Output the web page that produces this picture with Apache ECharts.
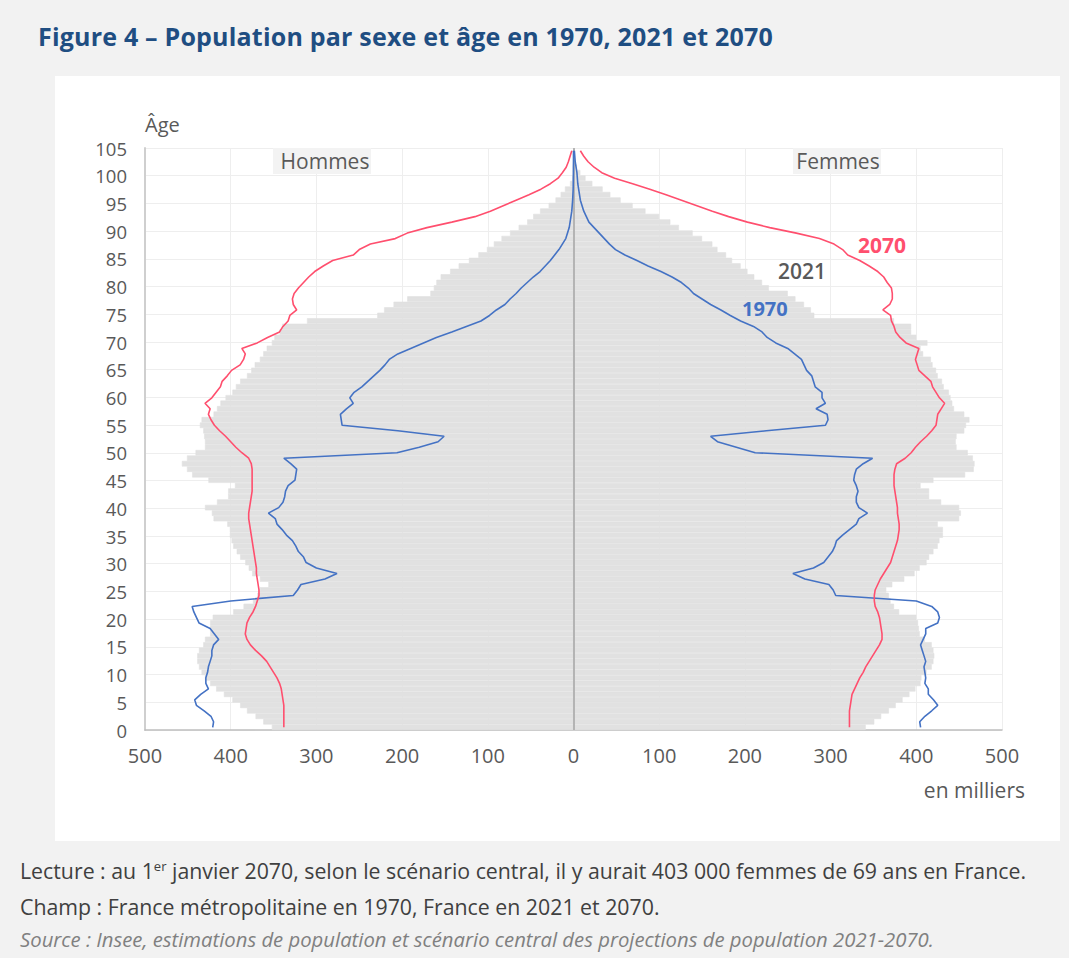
<!DOCTYPE html>
<html><head><meta charset="utf-8">
<script src="https://cdn.jsdelivr.net/npm/echarts/dist/echarts.min.js"></script>
<style>
html,body{margin:0;padding:0;background:#f2f2f2;width:1069px;height:958px;overflow:hidden;font-family:"Open Sans",sans-serif;}
#title{position:absolute;left:38px;top:19px;font-size:25px;line-height:34px;font-weight:700;color:#1f4e82;white-space:nowrap;letter-spacing:0.2px;}
#panel{position:absolute;left:55px;top:76px;width:1005px;height:765px;background:#fff;}
#chart{position:absolute;left:0;top:0;width:1069px;height:958px;}
.foot{position:absolute;left:20px;font-size:21.3px;color:#404040;white-space:nowrap;line-height:1;}
.foot sup{font-size:13px;vertical-align:8px;line-height:0;}
.src{font-style:italic;color:#808080;font-size:20.3px;}
</style></head>
<body>
<div id="title">Figure 4 – Population par sexe et âge en 1970, 2021 et 2070</div>
<div id="panel"></div>
<div id="chart"></div>
<div class="foot" style="top:860px">Lecture : au 1<sup>er</sup> janvier 2070, selon le scénario central, il y aurait 403 000 femmes de 69 ans en France.</div>
<div class="foot" style="top:896px">Champ : France métropolitaine en 1970, France en 2021 et 2070.</div>
<div class="foot src" style="top:929px">Source : Insee, estimations de population et scénario central des projections de population 2021-2070.</div>
<script>
// Ages 0..105
const ages = [];
for (let a = 0; a <= 105; a++) ages.push(String(a));

// 2021 (grey bars), thousands
const hommes2021 = [352,362,371,381,389,398,408,417,424,430,
434,437,439,439,437,432,430,424,424,424,
421,397,385,374,369,366,356,366,375,379,
383,389,393,397,399,401,401,404,420,422,
430,416,403,403,395,426,445,451,457,451,
441,430,430,431,432,436,434,420,416,412,
406,398,394,389,381,376,372,366,362,358,
352,349,343,340,311,229,221,210,194,167,
163,160,155,144,134,122,111,101,93,84,
74,64,54,47,39,29,21,15,10,4,
1.5,0.8,0.4,0.2,0.1,0.05];
const femmes2021 = [341,351,359,368,376,384,392,399,405,406,
412,418,420,421,420,418,410,404,403,402,
400,380,374,370,368,365,372,386,398,404,
412,415,420,425,427,431,431,425,450,452,
450,429,415,415,405,420,457,467,468,466,
460,447,446,447,456,458,462,456,444,442,
440,438,432,430,425,423,419,417,408,405,
413,400,394,394,374,281,277,269,259,250,
228,220,211,203,195,185,178,168,162,150,
139,123,113,100,84,69,55,43,34,22,
14,8,4,2,1,0.5];

// 1970 (blue line)
const hommes1970 = [421,420,423,431,440,442,435,426,429,429,
427,426,424,422,422,420,414,419,424,437,
440,443,445,400,327,322,318,290,276,300,
312,315,321,324,328,335,340,346,348,356,
344,339,337,336,333,325,324,323,330,338,
206,180,158,151,205,270,271,272,265,257,
261,256,247,240,233,226,220,215,205,190,
175,160,142,125,108,98,90,80,74,67,
61,54,47,39,33,27,22,17,13,9,
7,5,4,3,2,1.5,1,0.7,0.4,0.3,
0.2,0.1,0.1,0,0,0];
const femmes1970 = [405,404,410,418,425,420,414,414,410,411,
410,409,411,409,407,405,408,411,411,425,
427,425,418,400,306,303,298,270,256,280,
292,297,302,305,307,314,322,330,333,343,
333,330,330,332,330,327,328,330,338,349,
212,190,168,160,225,294,297,296,283,294,
290,290,282,280,278,272,269,266,258,250,
236,226,220,210,195,183,172,160,150,140,
134,126,115,102,87,74,60,49,42,36,
30,24,18,15,12,10,8,7,6,5,
4.5,4,3,2,1.5,1];

// 2070 (pink line)
const hommes2070 = [338,338,338,338,338,339,340,341,343,346,
350,354,358,364,371,377,381,383,382,381,
378,374,371,369,367,367,368,369,370,370,
371,372,373,374,375,376,377,378,379,379,
378,377,376,375,375,375,375,375,376,379,
387,394,400,406,413,419,423,426,424,430,
422,417,412,410,404,399,389,385,383,387,
369,357,343,339,333,331,323,327,328,326,
321,315,309,302,292,281,257,250,237,208,
194,171,142,115,97,82,67,52,38,27,
18,13,8.5,6,4,2];
const femmes2070 = [322,322,322,322,323,324,325,328,331,334,
338,341,345,349,353,357,360,360,359,358,
357,355,352,351,351,352,355,358,362,366,
370,372,374,376,378,379,380,380,379,378,
378,377,376,375,374,374,374,375,377,387,
394,399,405,412,418,423,424,425,429,433,
427,423,419,417,410,403,401,399,401,403,
388,381,376,374,371,370,361,369,372,372,
371,366,362,355,345,334,320,314,304,287,
260,229,203,181,162,144,126,108,89,69,
48,33,24,17,12,8];

const xTicks = [-500,-400,-300,-200,-100,0,100,200,300,400,500];

const neg = arr => arr.map(v => -v);
const FONT = '"Open Sans", sans-serif';
const GREY_TXT = '#595959';
const PINK = '#ff4f6e';
const BLUE = '#4472c4';

const chart = echarts.init(document.getElementById('chart'), null, {renderer: 'svg'});
const gridLeft = 145, gridTop = 148, gridRight = 1069 - 1002, gridBottom = 958 - 730;

const lineSeries = (name, data, color) => ({
  name, type: 'line', yAxisIndex: 1, data, symbol: 'none', z: 4,
  lineStyle: {color, width: 1.6}, itemStyle: {color}, silent: true, animation: false
});

chart.setOption({
  animation: false,
  backgroundColor: 'transparent',
  textStyle: {fontFamily: FONT},
  grid: {left: gridLeft, top: gridTop, right: gridRight, bottom: gridBottom, containLabel: false},
  xAxis: {
    type: 'value', min: xTicks[0], max: xTicks[xTicks.length - 1], interval: 100,
    axisLabel: {formatter: v => String(Math.abs(v)), color: GREY_TXT, fontSize: 20, margin: 15, fontFamily: FONT},
    axisLine: {show: true, onZero: false, lineStyle: {color: '#bfbfbf', width: 1.5}},
    axisTick: {show: false},
    splitLine: {show: true, lineStyle: {color: '#eeeeee', width: 1}}
  },
  yAxis: [{
    type: 'value', min: 0, max: 105, interval: 5, position: 'left',
    name: 'Âge', nameLocation: 'end', nameGap: 14,
    nameTextStyle: {align: 'left', color: GREY_TXT, fontSize: 20, fontFamily: FONT},
    axisLabel: {color: GREY_TXT, fontSize: 18.5, margin: 18, fontFamily: FONT},
    axisLine: {show: true, onZero: false, lineStyle: {color: '#cfcfcf', width: 2}},
    axisTick: {show: false},
    splitLine: {show: true, lineStyle: {color: '#eeeeee', width: 1}}
  }, {
    type: 'category', data: ages, show: false, boundaryGap: true, position: 'left',
    axisLine: {onZero: false}
  }],
  series: [
    {name: 'Hommes 2021', type: 'bar', yAxisIndex: 1, stack: 'p2021', data: neg(hommes2021),
     barCategoryGap: '0%', z: 1, silent: true,
     itemStyle: {color: '#e1e1e1', borderColor: '#e1e1e1', borderWidth: 0.6},
     markLine: {silent: true, symbol: 'none', z: 3, animation: false,
       label: {show: false}, lineStyle: {color: '#b4b4b4', width: 2, type: 'solid'},
       data: [{xAxis: 0}]}},
    {name: 'Femmes 2021', type: 'bar', yAxisIndex: 1, stack: 'p2021', data: femmes2021,
     barCategoryGap: '0%', z: 1, silent: true,
     itemStyle: {color: '#e1e1e1', borderColor: '#e1e1e1', borderWidth: 0.6}},
    lineSeries('Hommes 1970', neg(hommes1970), BLUE),
    lineSeries('Femmes 1970', femmes1970, BLUE),
    lineSeries('Hommes 2070', neg(hommes2070), PINK),
    lineSeries('Femmes 2070', femmes2070, PINK)
  ],
  graphic: [
    {type: 'rect', shape: {x: 273, y: 148, width: 98, height: 26}, style: {fill: '#f3f3f3'}, z: 10, silent: true},
    {type: 'text', x: 325, y: 161, z: 11, silent: true,
     style: {text: 'Hommes', fill: GREY_TXT, font: '21px ' + FONT, textAlign: 'center', textVerticalAlign: 'middle'}},
    {type: 'rect', shape: {x: 793, y: 148, width: 88, height: 26}, style: {fill: '#f3f3f3'}, z: 10, silent: true},
    {type: 'text', x: 838, y: 161, z: 11, silent: true,
     style: {text: 'Femmes', fill: GREY_TXT, font: '21px ' + FONT, textAlign: 'center', textVerticalAlign: 'middle'}},
    {type: 'text', x: 858, y: 245, z: 11, silent: true,
     style: {text: '2070', fill: PINK, font: 'bold 21px ' + FONT, textAlign: 'left', textVerticalAlign: 'middle'}},
    {type: 'text', x: 778, y: 271, z: 11, silent: true,
     style: {text: '2021', fill: GREY_TXT, font: '600 21px ' + FONT, textAlign: 'left', textVerticalAlign: 'middle'}},
    {type: 'text', x: 742, y: 308, z: 11, silent: true,
     style: {text: '1970', fill: BLUE, font: 'bold 20px ' + FONT, textAlign: 'left', textVerticalAlign: 'middle'}},
    {type: 'text', x: 1025, y: 790, z: 11, silent: true,
     style: {text: 'en milliers', fill: GREY_TXT, font: '21px ' + FONT, textAlign: 'right', textVerticalAlign: 'middle'}}
  ]
});
</script>
</body></html>
